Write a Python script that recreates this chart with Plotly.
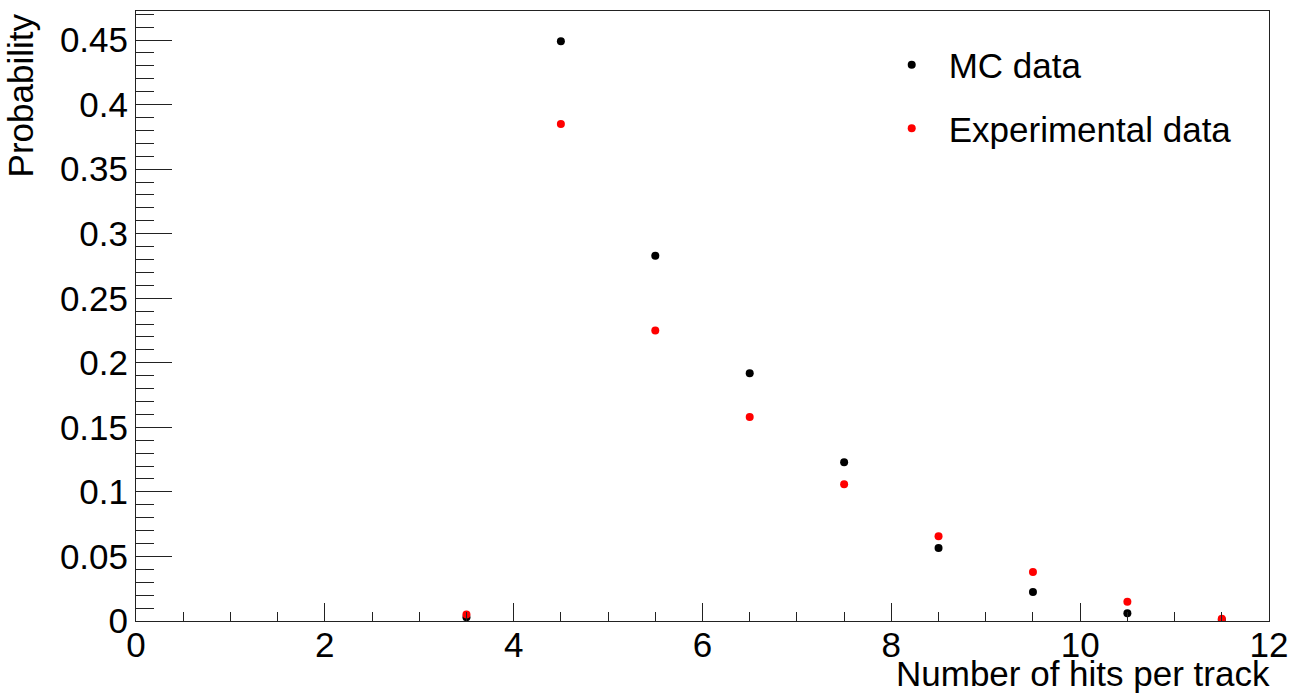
import plotly.graph_objects as go

# Bin centres (number of hits per track) and normalised probabilities
hits = [3.5, 4.5, 5.5, 6.5, 7.5, 8.5, 9.5, 10.5, 11.5]
mc_prob = [0.003, 0.449, 0.283, 0.192, 0.123, 0.0565, 0.0224, 0.006, 0.001]
exp_prob = [0.005, 0.385, 0.225, 0.158, 0.106, 0.0657, 0.0379, 0.0149, 0.0018]

y_tickvals = [0, 0.05, 0.1, 0.15, 0.2, 0.25, 0.3, 0.35, 0.4, 0.45]
y_ticktext = ["0", "0.05", "0.1", "0.15", "0.2", "0.25", "0.3", "0.35", "0.4", "0.45"]
x_tickvals = [0, 2, 4, 6, 8, 10, 12]
x_ticktext = ["0", "2", "4", "6", "8", "10", "12"]

FONT = "Liberation Sans, Arial, Helvetica, sans-serif"
FS = 35
AXIS_COLOR = "#222222"

fig = go.Figure()
fig.add_trace(go.Scatter(
    x=hits, y=mc_prob, mode="markers", name="MC data",
    legendgroup="mc",
    marker=dict(color="black", size=8),
))
fig.add_trace(go.Scatter(
    x=hits, y=exp_prob, mode="markers", name="Experimental data",
    legendgroup="exp",
    marker=dict(color="#ff0000", size=8),
))

fig.update_layout(
    width=1298, height=695,
    margin=dict(l=136, r=25, t=10, b=74),
    paper_bgcolor="white", plot_bgcolor="white",
    font=dict(family=FONT, size=FS, color="black"),
    showlegend=True,
    legend=dict(
        x=0.652, y=0.96, xanchor="left", yanchor="top",
        bgcolor="rgba(0,0,0,0)", borderwidth=0,
        font=dict(size=FS, family=FONT),
        traceorder="grouped", tracegroupgap=15,
        itemsizing="trace", itemwidth=64,
    ),
    xaxis=dict(
        range=[0, 12], tickvals=x_tickvals, ticktext=x_ticktext,
        ticks="inside", ticklen=18, tickwidth=1, tickcolor=AXIS_COLOR,
        minor=dict(dtick=0.5, ticks="inside", ticklen=9, tickcolor=AXIS_COLOR, tickwidth=1, showgrid=False),
        showgrid=False, zeroline=False,
        showline=True, linecolor=AXIS_COLOR, linewidth=1, mirror=True,
        tickfont=dict(size=FS, family=FONT),
        ticklabelstandoff=-7,
    ),
    yaxis=dict(
        range=[0, 0.4725], tickvals=y_tickvals, ticktext=y_ticktext,
        ticks="inside", ticklen=36, tickwidth=1, tickcolor=AXIS_COLOR,
        minor=dict(dtick=0.01, ticks="inside", ticklen=18, tickcolor=AXIS_COLOR, tickwidth=1, showgrid=False),
        showgrid=False, zeroline=False,
        showline=True, linecolor=AXIS_COLOR, linewidth=1, mirror=True,
        tickfont=dict(size=FS, family=FONT),
    ),
    annotations=[
        dict(text="Number of hits per track", xref="paper", yref="paper",
             x=1.0, y=-0.121, xanchor="right", yanchor="bottom", xshift=3,
             showarrow=False, font=dict(size=FS, family=FONT)),
        dict(text="Probability", xref="paper", yref="paper",
             x=-0.102, y=1.0, xanchor="center", yanchor="top", textangle=-90,
             showarrow=False, font=dict(size=FS, family=FONT)),
    ],
)

fig.write_html("out.html")
